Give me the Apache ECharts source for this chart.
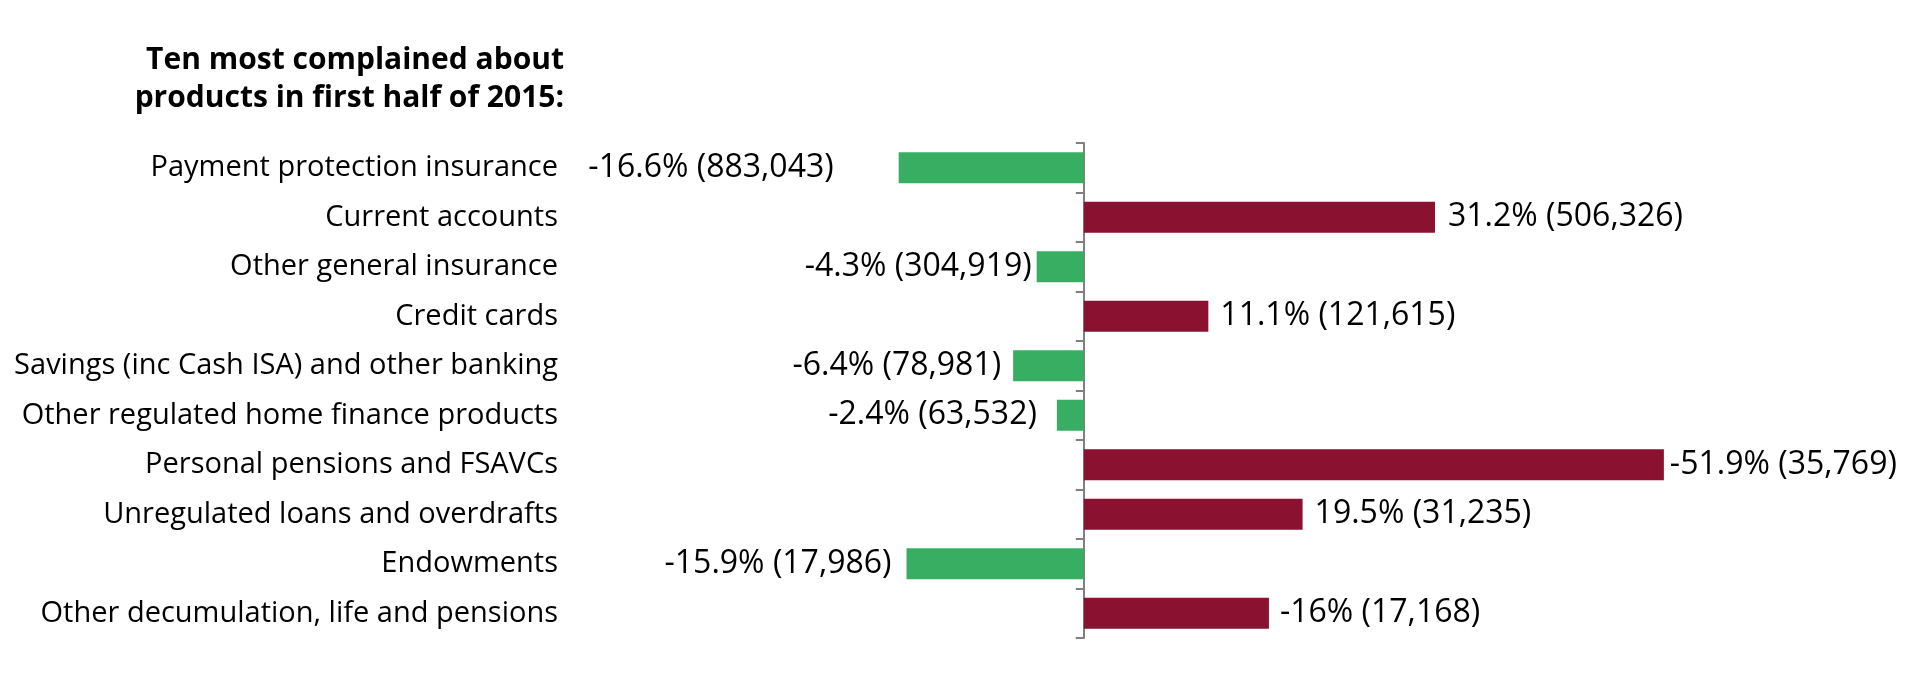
<!DOCTYPE html>
<html>
<head>
<meta charset="utf-8">
<script src="https://cdn.jsdelivr.net/npm/echarts@6/dist/echarts.min.js"></script>
<style>html,body{margin:0;padding:0;background:#fff}#c{width:1917px;height:695px}</style>
</head>
<body>
<div id="c"></div>
<script>
const titleLines = ['Ten most complained about', 'products in first half of 2015:'];
const categories = [
  'Payment protection insurance',
  'Current accounts',
  'Other general insurance',
  'Credit cards',
  'Savings (inc Cash ISA) and other banking',
  'Other regulated home finance products',
  'Personal pensions and FSAVCs',
  'Unregulated loans and overdrafts',
  'Endowments',
  'Other decumulation, life and pensions'
];
// bar lengths as drawn in the picture (signed direction)
const barValues = [-16.5, 31.3, -4.2, 11.1, -6.3, -2.4, 51.7, 19.5, -15.8, 16.5];
// label texts: percentage change and complaint counts
const pctLabels = ['-16.6%', '31.2%', '-4.3%', '11.1%', '-6.4%', '-2.4%', '-51.9%', '19.5%', '-15.9%', '-16%'];
const countLabels = ['883,043', '506,326', '304,919', '121,615', '78,981', '63,532', '35,769', '31,235', '17,986', '17,168'];

// styling
const GREEN = '#38ae62';
const MAROON = '#8b1130';
const labelGaps = [65, 13, 5, 12, 12, 20, 6, 12, 15, 11];
const FONT = '"Open Sans", "Noto Sans", sans-serif';

const data = barValues.map((v, i) => ({
  value: v,
  itemStyle: { color: v < 0 ? GREEN : MAROON },
  label: {
    show: true,
    position: v < 0 ? 'left' : 'right',
    distance: labelGaps[i],
    formatter: pctLabels[i] + ' (' + countLabels[i] + ')'
  }
}));

const chart = echarts.init(document.getElementById('c'));
chart.setOption({
  animation: false,
  grid: { left: 635, right: 160, top: 143, bottom: 57, containLabel: false },
  graphic: [{
    type: 'text',
    style: {
      text: titleLines.join('\n'),
      x: 564, y: 41,
      textAlign: 'right',
      textVerticalAlign: 'top',
      fontFamily: FONT,
      fontWeight: 'bold',
      fontSize: 30,
      lineHeight: 38,
      fill: '#000'
    }
  }],
  xAxis: {
    type: 'value', min: -40, max: 60, show: false
  },
  yAxis: [{
    type: 'category',
    data: categories,
    inverse: true,
    position: 'left',
    axisLine: { show: false, onZero: false },
    axisTick: { show: false },
    axisLabel: {
      margin: 77,
      color: '#000',
      fontFamily: FONT,
      fontSize: 29
    }
  }, {
    type: 'category',
    data: categories,
    inverse: true,
    position: 'left',
    axisLine: { show: true, onZero: true, lineStyle: { color: '#808080', width: 2 } },
    axisTick: { show: true, length: 8, lineStyle: { color: '#808080', width: 2 } },
    axisLabel: { show: false }
  }],
  series: [{
    type: 'bar',
    yAxisIndex: 0,
    data: data,
    barWidth: 31,
    label: {
      color: '#000',
      fontFamily: FONT,
      fontSize: 32
    }
  }]
});
</script>
</body>
</html>
